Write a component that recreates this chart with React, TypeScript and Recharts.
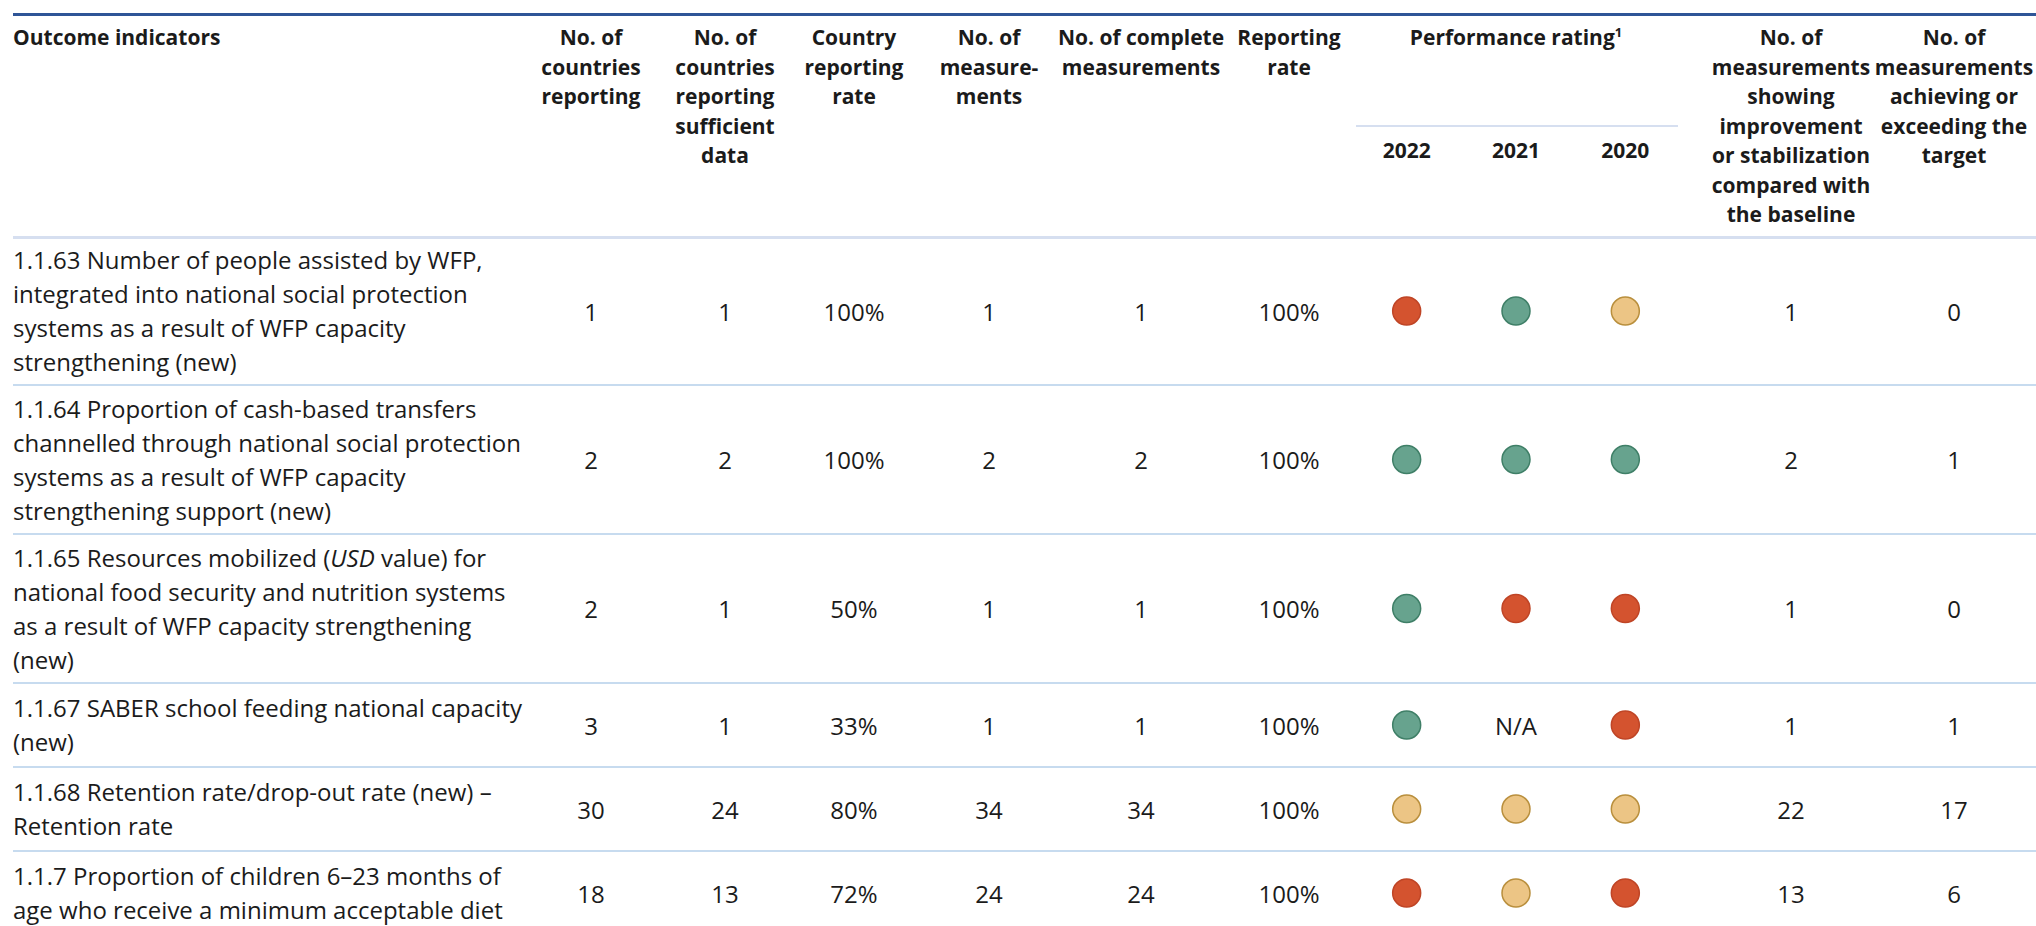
import React from "react";
import { ScatterChart, Scatter, XAxis, YAxis } from "recharts";

// ---- data ----
const indicatorIds = ["1.1.63", "1.1.64", "1.1.65", "1.1.67", "1.1.68", "1.1.7"];
const indicatorLines = [
  ["1.1.63 Number of people assisted by WFP,", "integrated into national social protection", "systems as a result of WFP capacity", "strengthening (new)"],
  ["1.1.64 Proportion of cash-based transfers", "channelled through national social protection", "systems as a result of WFP capacity", "strengthening support (new)"],
  ["1.1.65 Resources mobilized (|USD| value) for", "national food security and nutrition systems", "as a result of WFP capacity strengthening", "(new)"],
  ["1.1.67 SABER school feeding national capacity", "(new)"],
  ["1.1.68 Retention rate/drop-out rate (new) \u2013", "Retention rate"],
  ["1.1.7 Proportion of children 6\u201323 months of", "age who receive a minimum acceptable diet"],
];
const countriesReporting = ["1", "2", "2", "3", "30", "18"];
const countriesSufficient = ["1", "2", "1", "1", "24", "13"];
const countryRate = ["100%", "100%", "50%", "33%", "80%", "72%"];
const measurements = ["1", "2", "1", "1", "34", "24"];
const completeMeasurements = ["1", "2", "1", "1", "34", "24"];
const reportingRate = ["100%", "100%", "100%", "100%", "100%", "100%"];
const years = ["2022", "2021", "2020"];
const rating2022 = ["red", "green", "green", "green", "yellow", "red"];
const rating2021 = ["green", "green", "red", "na", "yellow", "yellow"];
const rating2020 = ["yellow", "green", "red", "red", "yellow", "red"];
const improvedMeasurements = ["1", "2", "1", "1", "22", "13"];
const achievedMeasurements = ["0", "1", "0", "1", "17", "6"];

const headerLines = {
  c1: ["No. of", "countries", "reporting"],
  c2: ["No. of", "countries", "reporting", "sufficient", "data"],
  c3: ["Country", "reporting", "rate"],
  c4: ["No. of", "measure-", "ments"],
  c5: ["No. of complete", "measurements"],
  c6: ["Reporting", "rate"],
  c10: ["No. of", "measurements", "showing", "improvement", "or stabilization", "compared with", "the baseline"],
  c11: ["No. of", "measurements", "achieving or", "exceeding the", "target"],
};

// ---- layout / styles ----
const FONT = "'Open Sans', 'Noto Sans', sans-serif";
const TEXT = "#1b1b1b";
const LEFT = 13;
const HEADER_TOP = 23;
const HEADER_LH = 29.5;
const HEADER_BOTTOM = 237;
const ROW_HEIGHTS = [148, 149, 149, 84, 84, 84];
const COL_X = { c1: 591, c2: 725, c3: 854, c4: 989, c5: 1141, c6: 1289, c10: 1791, c11: 1954 };
const RATING_LEFT = 1352;
const RATING_WIDTH = 328;

const DOT = {
  red: { fill: "#d4532f", stroke: "#bf4526" },
  green: { fill: "#67a38e", stroke: "#3f7f67" },
  yellow: { fill: "#ecc585", stroke: "#b98f3d" },
};

const rowTops: number[] = [];
ROW_HEIGHTS.reduce((acc, h) => {
  rowTops.push(acc);
  return acc + h;
}, HEADER_BOTTOM);

const valueColumns: [keyof typeof COL_X, string[]][] = [
  ["c1", countriesReporting],
  ["c2", countriesSufficient],
  ["c3", countryRate],
  ["c4", measurements],
  ["c5", completeMeasurements],
  ["c6", reportingRate],
  ["c10", improvedMeasurements],
  ["c11", achievedMeasurements],
];

function renderLine(line: string) {
  // |text| marks an italic fragment
  const parts = line.split("|");
  return parts.map((p, i) => (i % 2 === 1 ? <i key={i}>{p}</i> : <React.Fragment key={i}>{p}</React.Fragment>));
}

function RatingShape(props: any) {
  const { cx, cy, payload } = props;
  if (payload.rating === "na") {
    return (
      <text x={cx} y={cy} textAnchor="middle" dominantBaseline="central" fontFamily={FONT} fontSize={24} fill={TEXT}>
        N/A
      </text>
    );
  }
  const c = DOT[payload.rating as keyof typeof DOT];
  return <circle cx={cx} cy={cy} r={14} fill={c.fill} stroke={c.stroke} strokeWidth={1.5} />;
}

function RatingRow({ index, height }: { index: number; height: number }) {
  const ratings = [rating2022[index], rating2021[index], rating2020[index]];
  const data = years.map((year, i) => ({ year, row: indicatorIds[index], rating: ratings[i] }));
  return (
    <ScatterChart width={RATING_WIDTH} height={height} margin={{ top: 0, right: 0, bottom: 0, left: 0 }}>
      <XAxis type="category" dataKey="year" domain={years} hide allowDuplicatedCategory={false} />
      <YAxis type="category" dataKey="row" hide allowDuplicatedCategory={false} />
      <Scatter data={data} shape={RatingShape} isAnimationActive={false} />
    </ScatterChart>
  );
}

function HeaderCell({ x, lines }: { x: number; lines: string[] }) {
  return (
    <div
      style={{
        position: "absolute",
        left: x - 110,
        width: 220,
        top: HEADER_TOP,
        textAlign: "center",
        lineHeight: `${HEADER_LH}px`,
        fontWeight: 700,
        fontSize: 21,
        whiteSpace: "pre",
      }}
    >
      {lines.join("\n")}
    </div>
  );
}

export default function App() {
  return (
    <div
      style={{
        position: "absolute",
        left: 0,
        top: 0,
        width: 2036,
        height: 926,
        overflow: "hidden",
        background: "#fff",
        fontFamily: FONT,
        color: TEXT,
      }}
    >
      {/* top rule */}
      <div style={{ position: "absolute", left: LEFT, right: 0, top: 13, height: 3, background: "#2f5597" }} />

      {/* header */}
      <div style={{ position: "absolute", left: LEFT, top: HEADER_TOP, lineHeight: `${HEADER_LH}px`, fontWeight: 700, fontSize: 21 }}>
        Outcome indicators
      </div>
      {(Object.keys(headerLines) as (keyof typeof headerLines)[]).map((k) => (
        <HeaderCell key={k} x={COL_X[k]} lines={headerLines[k]} />
      ))}
      <div
        style={{
          position: "absolute",
          left: RATING_LEFT,
          width: RATING_WIDTH,
          top: HEADER_TOP,
          textAlign: "center",
          lineHeight: `${HEADER_LH}px`,
          fontWeight: 700,
          fontSize: 21,
        }}
      >
        Performance rating<sup style={{ fontSize: 13, lineHeight: 0 }}>1</sup>
      </div>
      <div style={{ position: "absolute", left: RATING_LEFT + 4, width: RATING_WIDTH - 6, top: 125, height: 2, background: "#d6dff0" }} />
      <div style={{ position: "absolute", left: RATING_LEFT, top: 136, width: RATING_WIDTH, display: "flex" }}>
        {years.map((y) => (
          <div key={y} style={{ flex: 1, textAlign: "center", fontWeight: 700, fontSize: 21, lineHeight: `${HEADER_LH}px` }}>
            {y}
          </div>
        ))}
      </div>
      <div style={{ position: "absolute", left: LEFT, right: 0, top: HEADER_BOTTOM - 1.5, height: 3, background: "#d6dff0" }} />

      {/* body rows */}
      {indicatorLines.map((lines, r) => {
        const top = rowTops[r];
        const h = ROW_HEIGHTS[r];
        return (
          <React.Fragment key={indicatorIds[r]}>
            <div
              style={{
                position: "absolute",
                left: LEFT,
                top,
                height: h,
                display: "flex",
                alignItems: "center",
                fontSize: 24,
                lineHeight: "34px",
              }}
            >
              <div>
                {lines.map((l, i) => (
                  <div key={i} style={{ whiteSpace: "pre" }}>
                    {renderLine(l)}
                  </div>
                ))}
              </div>
            </div>
            {valueColumns.map(([k, arr]) => (
              <div
                key={k}
                style={{
                  position: "absolute",
                  left: COL_X[k] - 60,
                  width: 120,
                  top,
                  height: h,
                  display: "flex",
                  alignItems: "center",
                  justifyContent: "center",
                  fontSize: 24,
                }}
              >
                {arr[r]}
              </div>
            ))}
            <div style={{ position: "absolute", left: RATING_LEFT, top, height: h }}>
              <RatingRow index={r} height={h} />
            </div>
            {r < indicatorLines.length - 1 && (
              <div style={{ position: "absolute", left: LEFT, right: 0, top: top + h - 0.75, height: 1.5, background: "#c7dbef" }} />
            )}
          </React.Fragment>
        );
      })}
    </div>
  );
}
